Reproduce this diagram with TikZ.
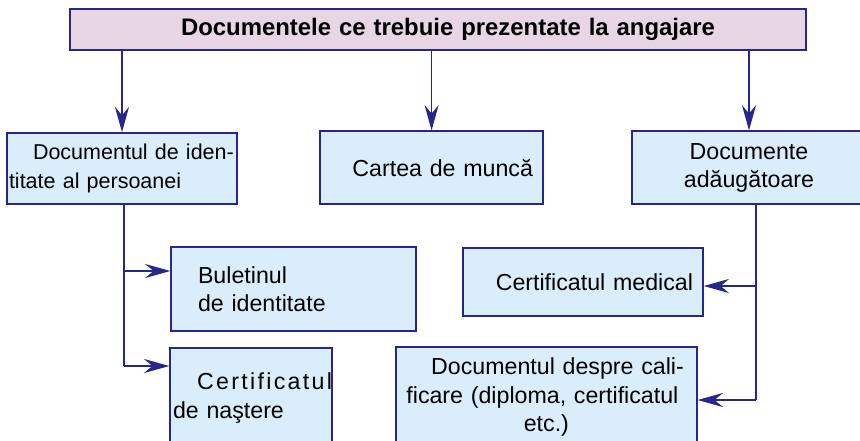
\documentclass[tikz,border=0pt]{standalone}
\usepackage{fontspec}
\setmainfont{Liberation Sans}
\newfontfamily\spacedfont[LetterSpace=10]{Liberation Sans}
\usetikzlibrary{arrows.meta}

\definecolor{navy}{RGB}{38,38,140}
\definecolor{boxfill}{RGB}{217,237,251}
\definecolor{titlefill}{RGB}{232,214,228}

\begin{document}
\begin{tikzpicture}[
    box/.style={draw=navy, fill=boxfill, line width=1pt, inner sep=0.05cm, font=\fontsize{16.5}{20}\selectfont},
    ttl/.style={draw=navy, fill=titlefill, line width=1pt, font=\fontsize{17}{20}\selectfont\bfseries},
    arr/.style={-{Stealth[length=18pt, width=10pt, inset=6pt]}, draw=navy, line width=1pt},
    ln/.style={draw=navy, line width=1pt}
]
\useasboundingbox (0,0) rectangle (21.5,-11.025);
\clip (0,0) rectangle (21.5,-11.025);

\node[ttl, minimum width=18.4cm, minimum height=1.025cm, text width=13.85cm, align=right] (top) at (10.95,-0.74) {Documentele ce trebuie prezentate la angajare};

\node[box, minimum width=5.75cm, minimum height=1.775cm, text width=5.65cm, align=left, font=\fontsize{15.3}{20}\selectfont] (id) at (3.05,-4.21) {\hspace*{0.6cm}Documentul de iden-\\titate al persoanei};
\node[box, minimum width=5.575cm, minimum height=1.825cm, text width=5.07cm, align=right] (carte) at (10.79,-4.19) {Cartea de muncă};
\node[box, minimum width=5.85cm, minimum height=1.825cm, align=center] (adaug) at (18.725,-4.19) {Documente\\adăugătoare};

\node[box, minimum width=6.125cm, minimum height=2.1cm, text width=4.78cm, align=left] (buletin) at (7.34,-7.225) {Buletinul\\de identitate};
\node[box, minimum width=4.05cm, minimum height=2.5cm, text width=3.9cm, align=left] (nastere) at (6.275,-9.95) {\hspace*{0.6cm}{\spacedfont Certificatul}\\de naştere};
\node[box, minimum width=6cm, minimum height=1.7cm, text width=5.5cm, align=right] (medical) at (14.575,-7.05) {Certificatul medical};
\node[box, minimum width=7.525cm, minimum height=2.5cm, text width=7cm, align=left] (calif) at (13.66,-9.925) {\hspace*{0.62cm}Documentul despre cali-\\ficare (diploma, certificatul\\\makebox[7cm]{etc.)}};

\draw[arr] (id.north |- top.south) -- (id.north);
\draw[arr] (carte.north |- top.south) -- (carte.north);
\draw[arr] (adaug.north |- top.south) -- (adaug.north);

\coordinate (lb1) at (3.1,-6.775);
\coordinate (lb2) at (3.1,-9.15);
\draw[ln] (lb1 |- id.south) -- (lb2);
\draw[arr] (lb1) -- (lb1 -| buletin.west);
\draw[arr] (lb2) -- (lb2 -| nastere.west);

\coordinate (rb1) at (18.9,-7.15);
\coordinate (rb2) at (18.9,-10.0);
\draw[ln] (rb1 |- adaug.south) -- (rb2);
\draw[arr] (rb1) -- (rb1 -| medical.east);
\draw[arr] (rb2) -- (rb2 -| calif.east);
\end{tikzpicture}
\end{document}
